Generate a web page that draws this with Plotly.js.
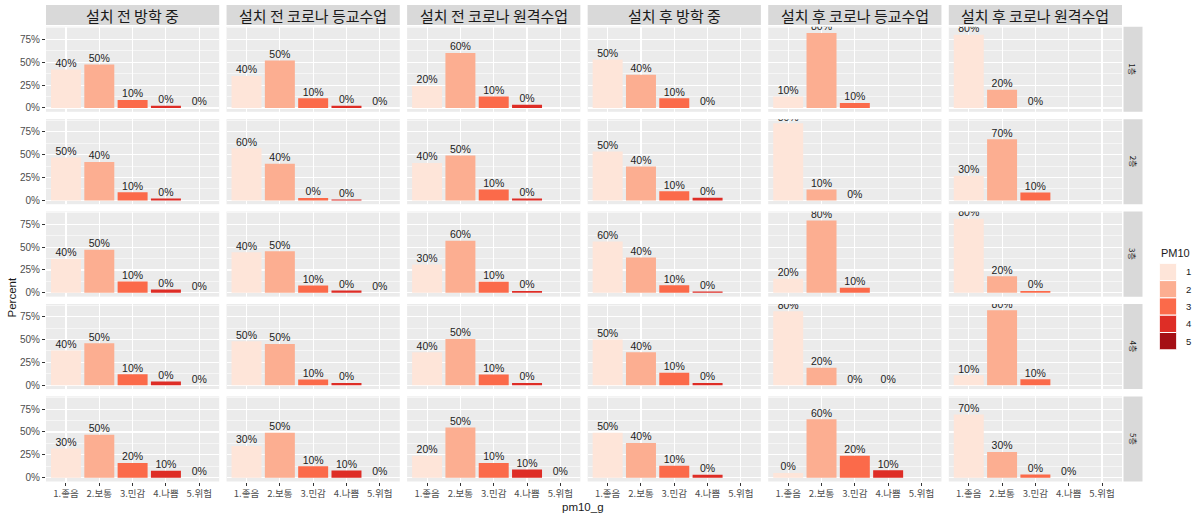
<!DOCTYPE html>
<html>
<head>
<meta charset="utf-8">
<script src="https://cdn.plot.ly/plotly-3.0.1.min.js"></script>
<style>html,body{margin:0;padding:0;background:#fff;}#chart{width:1200px;height:516px;}</style>
</head>
<body>
<div id="chart"></div>
<script>
// ---------- data ----------
const categories = ['1.좋음', '2.보통', '3.민감', '4.나쁨', '5.위험'];
const conditions = ['설치 전 방학 중', '설치 전 코로나 등교수업', '설치 전 코로나 원격수업',
                    '설치 후 방학 중', '설치 후 코로나 등교수업', '설치 후 코로나 원격수업'];
const floors = ['1층', '2층', '3층', '4층', '5층'];
const pmLevels = ['1', '2', '3', '4', '5'];

// bar heights (proportion), one row per floor, one entry per category; null = category absent
const val_c1 = [[0.42, 0.475, 0.088, 0.025, 0], [0.47, 0.42, 0.09, 0.02, null], [0.37, 0.47, 0.125, 0.035, 0], [0.38, 0.46, 0.12, 0.04, 0], [0.32, 0.47, 0.16, 0.075, 0]];
const val_c2 = [[0.35, 0.52, 0.107, 0.025, 0], [0.57, 0.40, 0.025, 0.01, null], [0.445, 0.455, 0.08, 0.025, 0], [0.48, 0.45, 0.063, 0.025, null], [0.345, 0.49, 0.125, 0.077, 0]];
const val_c3 = [[0.24, 0.60, 0.125, 0.036, null], [0.41, 0.49, 0.12, 0.02, null], [0.31, 0.57, 0.12, 0.02, null], [0.36, 0.505, 0.118, 0.025, null], [0.24, 0.55, 0.16, 0.088, 0]];
const val_c4 = [[0.53, 0.364, 0.107, 0, null], [0.535, 0.37, 0.10, 0.03, null], [0.56, 0.385, 0.083, 0.015, null], [0.50, 0.36, 0.136, 0.025, null], [0.49, 0.38, 0.13, 0.033, null]];
const val_c5 = [[0.125, 0.82, 0.055, null, null], [0.845, 0.12, 0, null, null], [0.155, 0.79, 0.055, null, null], [0.81, 0.19, 0, 0, null], [0.05, 0.64, 0.24, 0.08, null]];
const val_c6 = [[0.80, 0.20, 0, null, null], [0.27, 0.67, 0.085, null, null], [0.81, 0.18, 0.02, null, null], [0.11, 0.82, 0.065, null, null], [0.69, 0.28, 0.035, 0, null]];

// printed labels (percent)
const lab_c1 = [[40, 50, 10, 0, 0], [50, 40, 10, 0, null], [40, 50, 10, 0, 0], [40, 50, 10, 0, 0], [30, 50, 20, 10, 0]];
const lab_c2 = [[40, 50, 10, 0, 0], [60, 40, 0, 0, null], [40, 50, 10, 0, 0], [50, 50, 10, 0, null], [30, 50, 10, 10, 0]];
const lab_c3 = [[20, 60, 10, 0, null], [40, 50, 10, 0, null], [30, 60, 10, 0, null], [40, 50, 10, 0, null], [20, 50, 10, 10, 0]];
const lab_c4 = [[50, 40, 10, 0, null], [50, 40, 10, 0, null], [60, 40, 10, 0, null], [50, 40, 10, 0, null], [50, 40, 10, 0, null]];
const lab_c5 = [[10, 80, 10, null, null], [80, 10, 0, null, null], [20, 80, 10, null, null], [80, 20, 0, 0, null], [0, 60, 20, 10, null]];
const lab_c6 = [[80, 20, 0, null, null], [30, 70, 10, null, null], [80, 20, 0, null, null], [10, 80, 10, null, null], [70, 30, 0, 0, null]];

const yTickVals = [0, 0.25, 0.5, 0.75];
const yTickText = ['0%', '25%', '50%', '75%'];

// ---------- styling ----------
const pmColors = ['#FEE5D9', '#FCAE91', '#FB6A4A', '#DE2D26', '#A50F15'];
const W = 1200, H = 516;
const L = 46, R = 1122, T = 26.7, B = 481.5, G = 7.33;
const pw = (R - L - 5 * G) / 6, ph = (B - T - 4 * G) / 5;
const px = v => v / W, py = v => 1 - v / H;
const sans = 'Liberation Sans, Arial, Noto Sans CJK KR, sans-serif';
const kr = 'Noto Sans CJK KR, Liberation Sans, sans-serif';

const valCols = [val_c1, val_c2, val_c3, val_c4, val_c5, val_c6];
const labCols = [lab_c1, lab_c2, lab_c3, lab_c4, lab_c5, lab_c6];

const traces = [];
const layout = {
  width: W, height: H,
  margin: {l: 0, r: 0, t: 0, b: 0},
  paper_bgcolor: '#FFFFFF', plot_bgcolor: '#EBEBEB',
  showlegend: false,
  font: {family: sans, color: '#1A1A1A'},
  shapes: [], annotations: []
};

for (let r = 0; r < 5; r++) {
  for (let c = 0; c < 6; c++) {
    const idx = r * 6 + c + 1;
    const xa = idx === 1 ? 'x' : 'x' + idx;
    const ya = idx === 1 ? 'y' : 'y' + idx;
    const vals = valCols[c][r], labs = labCols[c][r];
    const xs = [], ys = [], cols = [], txs = [], wid = [];
    for (let k = 0; k < 5; k++) {
      if (vals[k] === null) continue;
      xs.push(categories[k]); ys.push(vals[k]); cols.push(pmColors[k]);
      txs.push(labs[k] + '%'); wid.push(0.9);
    }
    traces.push({type: 'bar', x: xs, y: ys, width: wid, marker: {color: cols, line: {width: 0}},
      xaxis: xa, yaxis: ya, hoverinfo: 'skip'});
    traces.push({type: 'scatter', mode: 'text', x: xs, y: ys, text: txs, textposition: 'top center',
      textfont: {family: sans, size: 10.5, color: '#222222'}, cliponaxis: true,
      xaxis: xa, yaxis: ya, hoverinfo: 'skip'});

    const x0 = L + c * (pw + G), x1 = x0 + pw;
    const y0 = T + r * (ph + G), y1 = y0 + ph;
    const bottom = r === 4, left = c === 0;
    layout['xaxis' + (idx === 1 ? '' : idx)] = {
      domain: [px(x0), px(x1)], anchor: ya, type: 'category',
      categoryorder: 'array', categoryarray: categories, range: [-0.6, 4.6],
      showgrid: true, gridcolor: '#FFFFFF', gridwidth: 1.1, zeroline: false, showline: false,
      showticklabels: bottom, ticks: bottom ? 'outside' : '', ticklen: 3, tickwidth: 1, tickcolor: '#333333',
      tickfont: {family: kr, size: 9.5, color: '#4D4D4D'}, fixedrange: true
    };
    layout['yaxis' + (idx === 1 ? '' : idx)] = {
      domain: [py(y1), py(y0)], anchor: xa, range: [-0.042, 0.889],
      tickmode: 'array', tickvals: yTickVals, ticktext: yTickText,
      showgrid: true, gridcolor: '#FFFFFF', gridwidth: 1.1, zeroline: false, showline: false,
      minor: {tickmode: 'array', tickvals: [0.125, 0.375, 0.625, 0.875], showgrid: true,
              gridcolor: '#FFFFFF', gridwidth: 0.55, ticks: ''},
      showticklabels: left, ticks: left ? 'outside' : '', ticklen: 3, tickwidth: 1, tickcolor: '#333333',
      tickfont: {family: sans, size: 10, color: '#4D4D4D'}, fixedrange: true
    };
  }
}

// column strips (top)
for (let c = 0; c < 6; c++) {
  const x0 = L + c * (pw + G), x1 = x0 + pw;
  layout.shapes.push({type: 'rect', xref: 'paper', yref: 'paper', x0: px(x0), x1: px(x1),
    y0: py(25), y1: py(5), fillcolor: '#D9D9D9', line: {width: 0}, layer: 'below'});
  layout.annotations.push({xref: 'paper', yref: 'paper', x: px((x0 + x1) / 2), y: py(15),
    text: conditions[c], showarrow: false, xanchor: 'center', yanchor: 'middle',
    font: {family: kr, size: 15, color: '#1A1A1A'}});
}
// row strips (right)
for (let r = 0; r < 5; r++) {
  const y0 = T + r * (ph + G), y1 = y0 + ph;
  layout.shapes.push({type: 'rect', xref: 'paper', yref: 'paper', x0: px(1123.5), x1: px(1142.5),
    y0: py(y1), y1: py(y0), fillcolor: '#D9D9D9', line: {width: 0}, layer: 'below'});
  layout.annotations.push({xref: 'paper', yref: 'paper', x: px(1133), y: py((y0 + y1) / 2),
    text: floors[r], textangle: 90, showarrow: false, xanchor: 'center', yanchor: 'middle',
    font: {family: kr, size: 8, color: '#1A1A1A'}});
}

// axis titles
layout.annotations.push({xref: 'paper', yref: 'paper', x: px(11.5), y: py(298), text: 'Percent',
  textangle: -90, showarrow: false, xanchor: 'center', yanchor: 'middle',
  font: {family: sans, size: 11.5, color: '#1A1A1A'}});
layout.annotations.push({xref: 'paper', yref: 'paper', x: px(583), y: py(507), text: 'pm10_g',
  showarrow: false, xanchor: 'center', yanchor: 'middle',
  font: {family: sans, size: 11.5, color: '#1A1A1A'}});

// legend
layout.annotations.push({xref: 'paper', yref: 'paper', x: px(1159), y: py(253), text: 'PM10',
  showarrow: false, xanchor: 'left', yanchor: 'middle',
  font: {family: sans, size: 11, color: '#1A1A1A'}});
const keyH = 17.3;
for (let k = 0; k < pmLevels.length; k++) {
  const ky0 = 263.3 + k * keyH;
  layout.shapes.push({type: 'rect', xref: 'paper', yref: 'paper', x0: px(1159.3), x1: px(1176.7),
    y0: py(ky0 + keyH), y1: py(ky0), fillcolor: pmColors[k], line: {color: '#FFFFFF', width: 1}});
  layout.annotations.push({xref: 'paper', yref: 'paper', x: px(1184), y: py(ky0 + keyH / 2),
    text: pmLevels[k], showarrow: false, xanchor: 'left', yanchor: 'middle',
    font: {family: sans, size: 9.5, color: '#1A1A1A'}});
}

Plotly.newPlot('chart', traces, layout, {staticPlot: true, displayModeBar: false});
</script>
</body>
</html>
